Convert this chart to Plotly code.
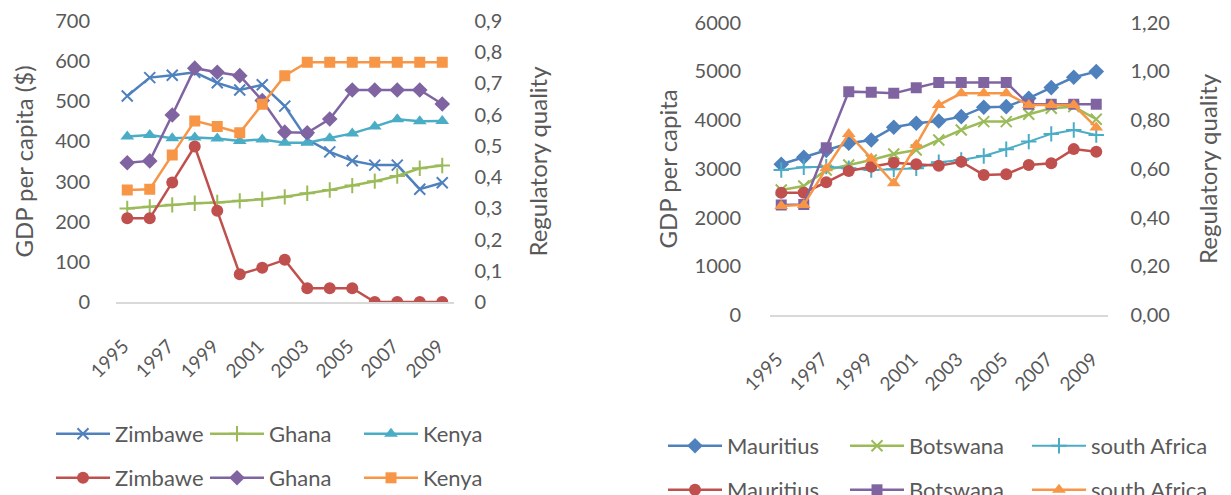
import plotly.graph_objects as go

# ---------------- data ----------------
years = list(range(1995, 2010))
year_tick_vals = [1995, 1997, 1999, 2001, 2003, 2005, 2007, 2009]
year_tick_text = ["1995", "1997", "1999", "2001", "2003", "2005", "2007", "2009"]

# Left chart: GDP per capita ($)
zim_gdp = [513, 559, 565, 572, 546, 528, 541, 488, 405, 374, 352, 341, 341, 281, 297]
gha_gdp = [233, 237, 242, 246, 248, 252, 256, 262, 271, 279, 290, 301, 314, 333, 340]
ken_gdp = [412, 416, 408, 410, 407, 401, 405, 397, 397, 408, 420, 437, 455, 450, 451]
# Left chart: Regulatory quality
zim_rq = [0.268, 0.268, 0.383, 0.498, 0.292, 0.089, 0.110, 0.135, 0.044, 0.044, 0.044, 0.0, 0.0, 0.0, 0.0]
gha_rq = [0.446, 0.452, 0.599, 0.749, 0.736, 0.725, 0.645, 0.544, 0.542, 0.586, 0.679, 0.679, 0.679, 0.679, 0.634]
ken_rq = [0.359, 0.361, 0.471, 0.580, 0.562, 0.542, 0.633, 0.725, 0.768, 0.768, 0.768, 0.768, 0.768, 0.768, 0.768]

# Right chart: GDP per capita
mau_gdp = [3094, 3238, 3380, 3525, 3593, 3854, 3936, 3983, 4072, 4265, 4277, 4450, 4668, 4880, 4996]
bot_gdp = [2567, 2649, 2977, 3080, 3183, 3306, 3388, 3593, 3799, 3970, 3970, 4121, 4244, 4277, 4018]
sa_gdp = [2977, 3033, 3045, 3012, 2977, 2991, 3012, 3135, 3183, 3265, 3402, 3559, 3717, 3799, 3696]
# Right chart: Regulatory quality
mau_rq = [0.502, 0.502, 0.545, 0.591, 0.609, 0.625, 0.619, 0.613, 0.629, 0.575, 0.578, 0.616, 0.623, 0.681, 0.670]
bot_rq = [0.452, 0.454, 0.687, 0.917, 0.914, 0.910, 0.933, 0.955, 0.955, 0.955, 0.955, 0.865, 0.865, 0.865, 0.865]
sa_rq = [0.447, 0.452, 0.602, 0.743, 0.643, 0.541, 0.698, 0.862, 0.910, 0.910, 0.910, 0.862, 0.862, 0.862, 0.770]

left_gdp_ticks = [0, 100, 200, 300, 400, 500, 600, 700]
left_rq_ticks = [0, 0.1, 0.2, 0.3, 0.4, 0.5, 0.6, 0.7, 0.8, 0.9]
left_rq_text = ["0", "0,1", "0,2", "0,3", "0,4", "0,5", "0,6", "0,7", "0,8", "0,9"]
right_gdp_ticks = [0, 1000, 2000, 3000, 4000, 5000, 6000]
right_rq_ticks = [0, 0.2, 0.4, 0.6, 0.8, 1.0, 1.2]
right_rq_text = ["0,00", "0,20", "0,40", "0,60", "0,80", "1,00", "1,20"]

# ---------------- style ----------------
BLUE = "#4F81BD"
RED = "#C0504D"
GREEN = "#9BBB59"
PURPLE = "#8064A2"
AQUA = "#4BACC6"
ORANGE = "#F79646"
TXT = "#595959"
FONT = "Lato"
W, H = 1231, 495

fig = go.Figure()


def add(y, name, color, symbol, xa, ya, legend, size=11, lw=2.5):
    marker = dict(symbol=symbol, size=size, color=color)
    if "open" in symbol:
        marker["line"] = dict(width=2, color=color)
    fig.add_trace(go.Scatter(
        x=years, y=y, name=name, mode="lines+markers",
        line=dict(color=color, width=lw), marker=marker,
        xaxis=xa, yaxis=ya, legend=legend, hoverinfo="skip"))


add(zim_gdp, "Zimbawe", BLUE, "x-thin-open", "x", "y", "legend", size=11)
add(gha_gdp, "Ghana", GREEN, "cross-thin-open", "x", "y", "legend", size=11)
add(ken_gdp, "Kenya", AQUA, "triangle-up", "x", "y", "legend", size=12)
add(zim_rq, "Zimbawe", RED, "circle", "x", "y2", "legend2", size=12)
add(gha_rq, "Ghana", PURPLE, "diamond", "x", "y2", "legend2", size=12)
add(ken_rq, "Kenya", ORANGE, "square", "x", "y2", "legend2", size=11)

add(mau_gdp, "Mauritius", BLUE, "diamond", "x2", "y3", "legend3", size=12)
add(bot_gdp, "Botswana", GREEN, "x-thin-open", "x2", "y3", "legend3", size=11)
add(sa_gdp, "south Africa", AQUA, "cross-thin-open", "x2", "y3", "legend3", size=11, lw=2)
add(mau_rq, "Mauritius", RED, "circle", "x2", "y4", "legend4", size=12)
add(bot_rq, "Botswana", PURPLE, "square", "x2", "y4", "legend4", size=11)
add(sa_rq, "south Africa", ORANGE, "triangle-up", "x2", "y4", "legend4", size=12)

tickfont = dict(family=FONT, size=20, color=TXT)
xtickfont = dict(family=FONT, size=19, color=TXT)
titlefont = dict(family=FONT, size=24, color=TXT)


def xaxis(domain, anchor):
    return dict(domain=domain, anchor=anchor, range=[1994.5, 2009.5],
                tickvals=year_tick_vals, ticktext=year_tick_text, tickangle=-45,
                tickfont=xtickfont, showgrid=False, zeroline=False, ticks="",
                showline=True, linecolor="#D9D9D9", linewidth=1.5, fixedrange=True,
                automargin=False, ticklabelshift=-4, ticklabelstandoff=24)


def yaxis(domain, anchor, rng, vals, text, title, side, lso, tso, overlay=None):
    d = dict(domain=domain, anchor=anchor, range=rng, tickvals=vals, ticktext=text,
             tickfont=tickfont, showgrid=False, zeroline=False, ticks="",
             showline=False, side=side, ticklabelstandoff=lso, automargin=False,
             title=dict(text=title, font=titlefont, standoff=tso), fixedrange=True)
    if overlay:
        d["overlaying"] = overlay
    return d


ldom = [116 / W, 453.5 / W]
rdom = [770 / W, 1107.5 / W]
lydom = [(H - 302) / H, (H - 21) / H]
rydom = [(H - 315) / H, (H - 22.7) / H]

legfont = dict(family=FONT, size=22, color=TXT)


def legend(x, y, ew):
    return dict(x=x, y=y, xanchor="left", yanchor="middle", orientation="h",
                font=legfont, itemwidth=54, entrywidth=ew, entrywidthmode="pixels",
                bgcolor="rgba(0,0,0,0)", tracegroupgap=0, itemclick=False,
                itemdoubleclick=False)


fig.update_layout(
    width=W, height=H,
    margin=dict(l=0, r=0, t=0, b=0, autoexpand=False),
    paper_bgcolor="white", plot_bgcolor="white",
    font=dict(family=FONT, color=TXT),
    xaxis=xaxis(ldom, "y"),
    yaxis=yaxis(lydom, "x", [0, 700], left_gdp_ticks, [str(v) for v in left_gdp_ticks],
                "GDP per capita ($)", "left", 25, 14),
    yaxis2=yaxis(lydom, "x", [0, 0.9], left_rq_ticks, left_rq_text,
                 "Regulatory quality", "right", 20, 28, overlay="y"),
    xaxis2=xaxis(rdom, "y3"),
    yaxis3=yaxis(rydom, "x2", [0, 6000], right_gdp_ticks, [str(v) for v in right_gdp_ticks],
                 "GDP per capita", "left", 28, 10),
    yaxis4=yaxis(rydom, "x2", [0, 1.2], right_rq_ticks, right_rq_text,
                 "Regulatory quality", "right", 22, 31, overlay="y3"),
    legend=legend(51 / W, (H - 434) / H, 85),
    legend2=legend(51 / W, (H - 478) / H, 85),
    legend3=legend(663 / W, (H - 446) / H, 113),
    legend4=legend(663 / W, (H - 490) / H, 113),
    showlegend=True,
)

fig.write_html("out.html",
               config={"displayModeBar": False, "staticPlot": False},
               post_script="document.body.style.margin='0';document.body.style.overflow='hidden';")
